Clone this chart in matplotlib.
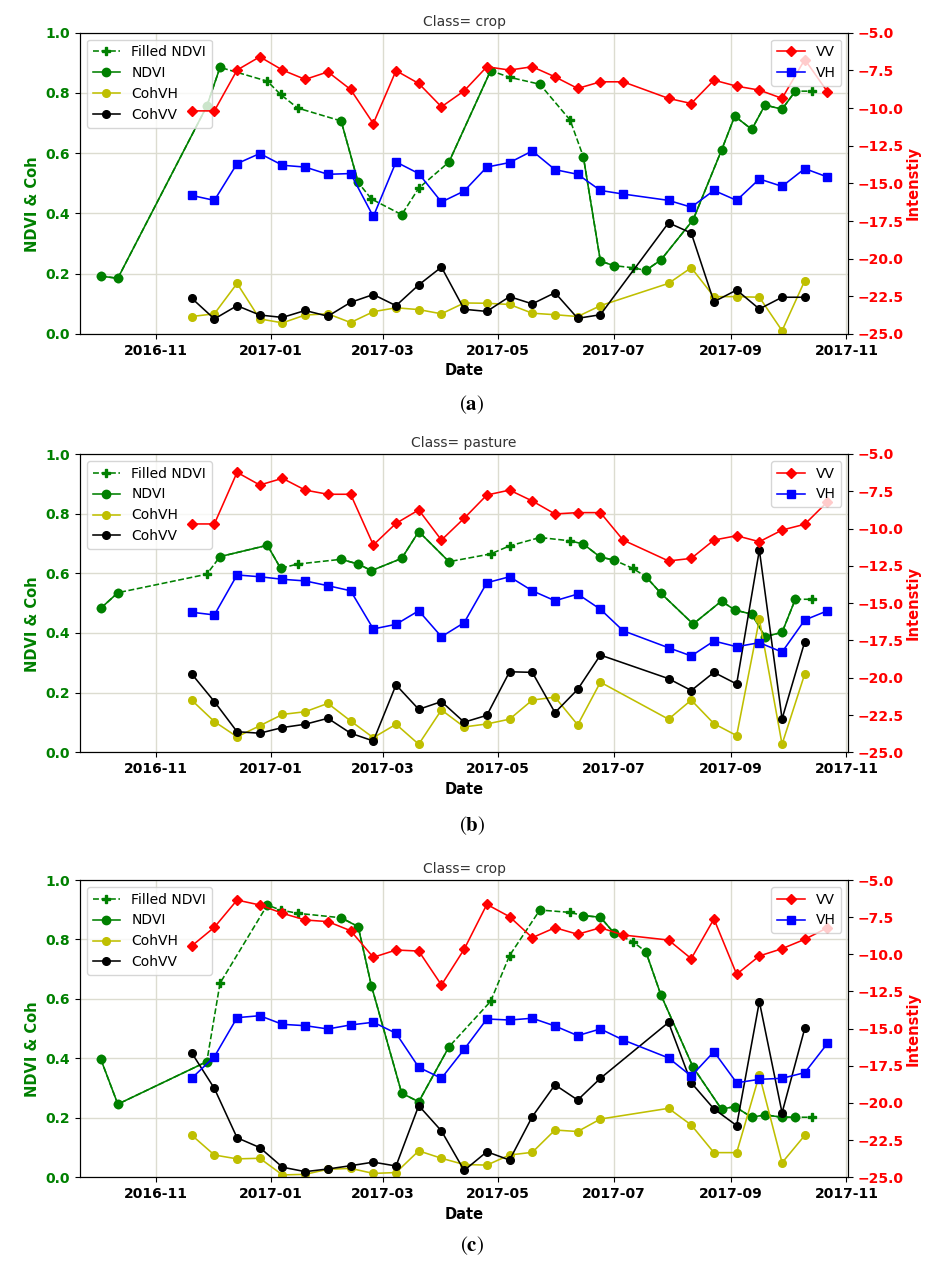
import numpy as np
import pandas as pd
import matplotlib
matplotlib.use("Agg")
import matplotlib.pyplot as plt
import matplotlib.dates as mdates
from matplotlib.ticker import FixedLocator, FormatStrFormatter, FuncFormatter

# ---------------- data ----------------
s1_dates = ['2016-11-20', '2016-12-02', '2016-12-14', '2016-12-26', '2017-01-07', '2017-01-19',
            '2017-01-31', '2017-02-12', '2017-02-24', '2017-03-08', '2017-03-20', '2017-04-01',
            '2017-04-13', '2017-04-25', '2017-05-07', '2017-05-19', '2017-05-31', '2017-06-12',
            '2017-06-24', '2017-07-06', '2017-07-30', '2017-08-11', '2017-08-23', '2017-09-04',
            '2017-09-16', '2017-09-28', '2017-10-10', '2017-10-22']
coh_dates = ['2016-11-20', '2016-12-02', '2016-12-14', '2016-12-26', '2017-01-07', '2017-01-19',
             '2017-01-31', '2017-02-12', '2017-02-24', '2017-03-08', '2017-03-20', '2017-04-01',
             '2017-04-13', '2017-04-25', '2017-05-07', '2017-05-19', '2017-05-31', '2017-06-12',
             '2017-06-24', '2017-07-30', '2017-08-11', '2017-08-23', '2017-09-04', '2017-09-16',
             '2017-09-28', '2017-10-10']
ndvi_dates = ['2016-10-03', '2016-10-12', '2016-11-28', '2016-12-05', '2016-12-30', '2017-01-06',
              '2017-01-15', '2017-02-07', '2017-02-16', '2017-02-23', '2017-03-11', '2017-03-20',
              '2017-04-05', '2017-04-27', '2017-05-07', '2017-05-23', '2017-06-08', '2017-06-15',
              '2017-06-24', '2017-07-01', '2017-07-11', '2017-07-18', '2017-07-26', '2017-08-12',
              '2017-08-27', '2017-09-03', '2017-09-12', '2017-09-19', '2017-09-28', '2017-10-05',
              '2017-10-14']

titles = ['Class= crop', 'Class= pasture', 'Class= crop']
tags = ['a', 'b', 'c']

# panel (a)
vv_a = [-10.19, -10.19, -7.48, -6.60, -7.48, -8.10, -7.60, -8.77, -11.03, -7.52, -8.37, -9.92, -8.86,
        -7.26, -7.48, -7.26, -7.93, -8.70, -8.26, -8.26,
        -9.36, -9.70, -8.15, -8.55, -8.81, -9.36, -6.78, -8.92]
vh_a = [-15.80, -16.13, -13.69, -13.02, -13.80, -13.92, -14.40, -14.35, -17.20, -13.58, -14.35, -16.24, -15.51,
        -13.92, -13.62, -12.85, -14.09, -14.40, -15.47, -15.71,
        -16.13, -16.58, -15.47, -16.13, -14.71, -15.20, -14.02, -14.58]
cohvh_a = [0.058, 0.067, 0.168, 0.050, 0.037, 0.063, 0.067, 0.038, 0.074, 0.087, 0.081, 0.067, 0.103,
           0.102, 0.098, 0.069, 0.064, 0.058, 0.094,
           0.168, 0.220, 0.124, 0.124, 0.122, 0.011, 0.177]
cohvv_a = [0.119, 0.050, 0.094, 0.063, 0.055, 0.078, 0.059, 0.105, 0.131, 0.094, 0.163, 0.222, 0.082,
           0.075, 0.124, 0.100, 0.137, 0.052, 0.064,
           0.369, 0.335, 0.107, 0.146, 0.083, 0.122, 0.122]
filled_a = [0.192, 0.185, 0.756, 0.885, 0.839, 0.795, 0.750, 0.707, 0.503, 0.448, 0.396, 0.484,
            0.571, 0.874, 0.852, 0.829, 0.710, 0.588, 0.242, 0.227, 0.220, 0.211, 0.246, 0.379,
            0.610, 0.723, 0.679, 0.760, 0.746, 0.806, 0.806]
ndvi_a = [0.192, 0.185, 0.756, 0.885, None, None, None, 0.707, 0.503, None, 0.396, None,
          0.571, 0.874, None, 0.829, None, 0.588, 0.242, 0.227, None, 0.211, 0.246, 0.379,
          0.610, 0.723, 0.679, 0.760, 0.746, 0.806, None]

# panel (b)
vv_b = [-9.69, -9.69, -6.23, -7.08, -6.63, -7.42, -7.70, -7.70, -11.10, -9.65, -8.75, -10.77, -9.31,
        -7.75, -7.42, -8.15, -9.02, -8.93, -8.93, -10.77,
        -12.17, -12.00, -10.77, -10.48, -10.88, -10.10, -9.71, -8.20]
vh_b = [-15.61, -15.79, -13.11, -13.23, -13.40, -13.51, -13.83, -14.17, -16.73, -16.42, -15.51, -17.25, -16.31,
        -13.63, -13.23, -14.17, -14.84, -14.39, -15.41, -16.85,
        -17.99, -18.54, -17.54, -17.92, -17.65, -18.28, -16.13, -15.51]
cohvh_b = [0.175, 0.103, 0.052, 0.089, 0.127, 0.136, 0.164, 0.105, 0.049, 0.094, 0.027, 0.142, 0.085,
           0.095, 0.111, 0.175, 0.185, 0.092, 0.235,
           0.111, 0.175, 0.096, 0.056, 0.446, 0.027, 0.263]
cohvv_b = [0.263, 0.170, 0.069, 0.064, 0.083, 0.094, 0.114, 0.064, 0.038, 0.226, 0.144, 0.170, 0.101,
           0.124, 0.270, 0.268, 0.133, 0.211, 0.326,
           0.247, 0.207, 0.268, 0.229, 0.678, 0.112, 0.371]
filled_b = [0.483, 0.535, 0.597, 0.656, 0.694, 0.617, 0.631, 0.647, 0.631, 0.609, 0.650, 0.740,
            0.639, 0.665, 0.692, 0.720, 0.709, 0.698, 0.654, 0.645, 0.617, 0.589, 0.533, 0.430,
            0.507, 0.477, 0.463, 0.388, 0.402, 0.513, 0.513]
ndvi_b = [0.483, 0.535, None, 0.656, 0.694, 0.617, None, 0.647, 0.631, 0.609, 0.650, 0.740,
          0.639, None, None, 0.720, None, 0.698, 0.654, 0.645, None, 0.589, 0.533, 0.430,
          0.507, 0.477, 0.463, 0.388, 0.402, 0.513, None]

# panel (c)
vv_c = [-9.44, -8.18, -6.35, -6.68, -7.24, -7.69, -7.80, -8.41, -10.20, -9.71, -9.78, -12.06, -9.66,
        -6.64, -7.47, -8.88, -8.21, -8.65, -8.21, -8.70,
        -9.04, -10.29, -7.62, -11.34, -10.11, -9.62, -8.99, -8.21]
vh_c = [-18.34, -16.89, -14.26, -14.13, -14.71, -14.80, -15.02, -14.75, -14.57, -15.31, -17.60, -18.34, -16.39,
        -14.35, -14.42, -14.30, -14.82, -15.47, -15.02, -15.76,
        -16.97, -18.19, -16.55, -18.64, -18.41, -18.34, -17.96, -15.99]
cohvh_c = [0.142, 0.075, 0.062, 0.064, 0.008, 0.010, 0.027, 0.030, 0.013, 0.016, 0.089, 0.064, 0.043,
           0.041, 0.075, 0.084, 0.159, 0.154, 0.196,
           0.232, 0.176, 0.083, 0.083, 0.344, 0.049, 0.141]
cohvv_c = [0.419, 0.299, 0.133, 0.100, 0.034, 0.019, 0.028, 0.039, 0.051, 0.038, 0.241, 0.156, 0.023,
           0.086, 0.058, 0.204, 0.311, 0.260, 0.333,
           0.521, 0.318, 0.230, 0.174, 0.591, 0.217, 0.501]
filled_c = [0.397, 0.246, 0.389, 0.653, 0.916, 0.899, 0.888, 0.873, 0.843, 0.644, 0.283, 0.254,
            0.439, 0.592, 0.746, 0.899, 0.891, 0.880, 0.875, 0.823, 0.793, 0.759, 0.613, 0.370,
            0.229, 0.238, 0.202, 0.210, 0.202, 0.202, 0.202]
ndvi_c = [0.397, 0.246, 0.389, None, 0.916, None, None, 0.873, 0.843, 0.644, 0.283, 0.254,
          0.439, None, None, 0.899, None, 0.880, 0.875, 0.823, None, 0.759, 0.613, 0.370,
          0.229, 0.238, 0.202, 0.210, 0.202, 0.202, None]

left_ticks = [0.0, 0.2, 0.4, 0.6, 0.8, 1.0]
right_ticks = [-25.0, -22.5, -20.0, -17.5, -15.0, -12.5, -10.0, -7.5, -5.0]
x_range = ['2016-09-22', '2017-11-02']

# ---------------- figure ----------------
plt.rcParams['font.family'] = ['DejaVu Sans']
plt.rcParams['mathtext.fontset'] = 'stix'

W, H = 926, 1263
fig = plt.figure(figsize=(W / 100, H / 100), dpi=100)

# axes boxes in pixels: (left, top, right, bottom)
boxes = [(80, 32.7, 848.3, 334.0), (80, 454.0, 848.3, 752.3), (80, 880.0, 848.3, 1177.3)]
tag_y = [405, 826, 1246]

panels = [
    (vv_a, vh_a, cohvh_a, cohvv_a, filled_a, ndvi_a),
    (vv_b, vh_b, cohvh_b, cohvv_b, filled_b, ndvi_b),
    (vv_c, vh_c, cohvh_c, cohvv_c, filled_c, ndvi_c),
]

s1_x = pd.to_datetime(s1_dates)
coh_x = pd.to_datetime(coh_dates)
nd_x = pd.to_datetime(ndvi_dates)

GREEN = 'green'
LW = 1.15
minus_fmt = FuncFormatter(lambda v, p: ('%.1f' % v).replace('-', '\u2212'))

for i, (vv, vh, cvh, cvv, fil, nd) in enumerate(panels):
    l, t, r, b = boxes[i]
    ax1 = fig.add_axes([l / W, 1 - b / H, (r - l) / W, (b - t) / H])

    ax1.plot(nd_x, np.array(fil, dtype=float), color=GREEN, ls='--', marker='P', ms=6,
             lw=LW, label='Filled NDVI')
    ax1.plot(nd_x, np.array(nd, dtype=float), color=GREEN, ls='-', marker='o', ms=6,
             lw=LW, label='NDVI')
    ax1.plot(coh_x, cvh, color='y', marker='o', ms=5.5, lw=LW, label='CohVH')
    ax1.plot(coh_x, cvv, color='k', marker='o', ms=5.5, lw=LW, label='CohVV')

    ax1.set_ylim(0, 1)
    ax1.set_xlim(pd.Timestamp(x_range[0]), pd.Timestamp(x_range[1]))
    ax1.yaxis.set_major_locator(FixedLocator(left_ticks))
    ax1.yaxis.set_major_formatter(FormatStrFormatter('%.1f'))
    ax1.xaxis.set_major_locator(mdates.MonthLocator(bymonth=[1, 3, 5, 7, 9, 11]))
    ax1.xaxis.set_major_formatter(mdates.DateFormatter('%Y-%m'))
    ax1.grid(True, color='#dcdcd0', lw=1.0)
    for lab in ax1.get_yticklabels():
        lab.set_color(GREEN)
        lab.set_fontweight('bold')
        lab.set_fontsize(10)
    for lab in ax1.get_xticklabels():
        lab.set_fontweight('bold')
        lab.set_fontsize(10)
    ax1.set_xlabel('Date', fontweight='bold', fontsize=10.5)
    ax1.set_ylabel('NDVI & Coh', color=GREEN, fontweight='bold', fontsize=10.5)
    ax1.yaxis.set_label_coords(-0.052, 0.43)
    ax1.set_title(titles[i], fontsize=10, color='#333333', pad=5)
    ax1.legend(loc='upper left', fontsize=10)

    ax2 = ax1.twinx()
    ax2.plot(s1_x, vv, color='red', marker='D', ms=5.5, lw=LW, label='VV')
    ax2.plot(s1_x, vh, color='blue', marker='s', ms=6.3, lw=LW, label='VH')
    ax2.set_ylim(-25, -5)
    ax2.yaxis.set_major_locator(FixedLocator(right_ticks))
    ax2.yaxis.set_major_formatter(minus_fmt)
    for lab in ax2.get_yticklabels():
        lab.set_color('red')
        lab.set_fontweight('bold')
        lab.set_fontsize(10)
    ax2.set_ylabel('Intenstiy', color='red', fontweight='bold', fontsize=10.5)
    ax2.yaxis.set_label_coords(1.074, 0.5)
    ax2.legend(loc='upper right', fontsize=10)

    fig.text(472 / W, 1 - tag_y[i] / H, r'($\mathbf{' + tags[i] + r'}$)', fontsize=15,
             family='STIXGeneral', ha='center', va='center')

fig.savefig('out.png', dpi=100)
